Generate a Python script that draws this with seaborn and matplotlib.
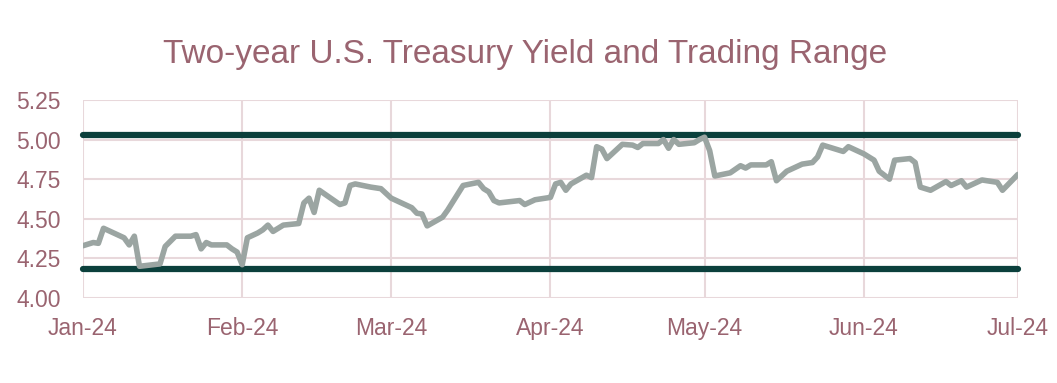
import matplotlib.pyplot as plt
import matplotlib.dates as mdates
import pandas as pd
import seaborn as sns

# 2-year yield (one point per turning point)
dates = [
    '2024-01-01', '2024-01-03', '2024-01-04', '2024-01-05', '2024-01-07', '2024-01-09',
    '2024-01-10', '2024-01-11', '2024-01-12', '2024-01-16', '2024-01-17', '2024-01-19',
    '2024-01-22', '2024-01-23', '2024-01-24', '2024-01-25', '2024-01-26', '2024-01-29',
    '2024-01-30', '2024-01-31', '2024-02-01', '2024-02-02', '2024-02-04', '2024-02-05',
    '2024-02-06', '2024-02-07', '2024-02-09', '2024-02-12', '2024-02-13', '2024-02-14',
    '2024-02-15', '2024-02-16', '2024-02-20', '2024-02-21', '2024-02-22', '2024-02-23',
    '2024-02-26', '2024-02-28', '2024-03-01', '2024-03-05', '2024-03-06', '2024-03-07',
    '2024-03-08', '2024-03-11', '2024-03-12', '2024-03-15', '2024-03-18', '2024-03-19',
    '2024-03-20', '2024-03-21', '2024-03-22', '2024-03-26', '2024-03-27', '2024-03-29',
    '2024-04-01', '2024-04-02', '2024-04-03', '2024-04-04', '2024-04-05', '2024-04-08',
    '2024-04-09', '2024-04-10', '2024-04-11', '2024-04-12', '2024-04-15', '2024-04-17',
    '2024-04-18', '2024-04-19', '2024-04-22', '2024-04-23', '2024-04-24', '2024-04-25',
    '2024-04-26', '2024-04-29', '2024-04-30', '2024-05-01', '2024-05-02', '2024-05-03',
    '2024-05-06', '2024-05-08', '2024-05-09', '2024-05-10', '2024-05-13', '2024-05-14',
    '2024-05-15', '2024-05-17', '2024-05-20', '2024-05-22', '2024-05-23', '2024-05-24',
    '2024-05-28', '2024-05-29', '2024-06-01', '2024-06-03', '2024-06-04', '2024-06-06',
    '2024-06-07', '2024-06-10', '2024-06-11', '2024-06-12', '2024-06-14', '2024-06-17',
    '2024-06-18', '2024-06-20', '2024-06-21', '2024-06-24', '2024-06-27', '2024-06-28',
    '2024-07-01',
]
yields = [
    4.33, 4.35, 4.345, 4.44, 4.41, 4.38,
    4.335, 4.39, 4.20, 4.215, 4.325, 4.39,
    4.39, 4.40, 4.31, 4.35, 4.335, 4.335,
    4.31, 4.29, 4.21, 4.38, 4.41, 4.43,
    4.46, 4.42, 4.46, 4.47, 4.60, 4.63,
    4.54, 4.68, 4.59, 4.60, 4.71, 4.72,
    4.70, 4.69, 4.63, 4.57, 4.535, 4.53,
    4.455, 4.51, 4.555, 4.71, 4.73, 4.69,
    4.67, 4.615, 4.60, 4.615, 4.59, 4.62,
    4.635, 4.72, 4.73, 4.68, 4.72, 4.775,
    4.76, 4.955, 4.94, 4.88, 4.97, 4.965,
    4.95, 4.975, 4.975, 5.00, 4.945, 5.00,
    4.97, 4.98, 5.00, 5.015, 4.93, 4.77,
    4.79, 4.835, 4.82, 4.84, 4.84, 4.86,
    4.74, 4.80, 4.845, 4.855, 4.89, 4.965,
    4.925, 4.955, 4.91, 4.87, 4.80, 4.75,
    4.87, 4.88, 4.855, 4.70, 4.68, 4.735,
    4.71, 4.74, 4.70, 4.745, 4.73, 4.68,
    4.78,
]
range_high = 5.03
range_low = 4.185

month_ticks = ['2024-01-01', '2024-02-01', '2024-03-01', '2024-04-01',
               '2024-05-01', '2024-06-01', '2024-07-01']
y_ticks = [4.00, 4.25, 4.50, 4.75, 5.00, 5.25]

df = pd.DataFrame({'date': pd.to_datetime(dates), 'yield': yields})

text_color = '#9A6470'
sns.set_style('whitegrid')
plt.rcParams['font.family'] = ['Liberation Sans', 'DejaVu Sans']

fig = plt.figure(figsize=(10.57, 3.83), dpi=100)
ax = fig.add_axes([0.0785, 0.222, 0.8845, 0.517])

# trading range lines (round caps poke a little past the right edge)
for level in (range_high, range_low):
    ax.axhline(level, color='#0B403C', lw=4.5, solid_capstyle='round',
               zorder=3, clip_on=False)
sns.lineplot(data=df, x='date', y='yield', ax=ax, color='#9BA5A2', lw=4,
             solid_joinstyle='round', zorder=4)

ax.set_xlim(pd.Timestamp(month_ticks[0]), pd.Timestamp(month_ticks[-1]))
ax.set_ylim(4.0, 5.25)
ax.set_xticks(pd.to_datetime(month_ticks))
ax.xaxis.set_major_formatter(mdates.DateFormatter('%b-%y'))
ax.set_yticks(y_ticks)
ax.set_yticklabels([f'{v:.2f}' for v in y_ticks])
ax.tick_params(axis='both', length=0, labelsize=16.5, colors=text_color)
ax.tick_params(axis='y', pad=16)
ax.tick_params(axis='x', pad=14)
ax.grid(True, color='#E8D8DB', lw=1.5)
for s in ax.spines.values():
    s.set_visible(False)
ax.set_xlabel('')
ax.set_ylabel('')

fig.text(0.497, 0.858, 'Two-year U.S. Treasury Yield and Trading Range',
         ha='center', va='center', fontsize=24, color=text_color)

fig.savefig('out.png', dpi=100)
